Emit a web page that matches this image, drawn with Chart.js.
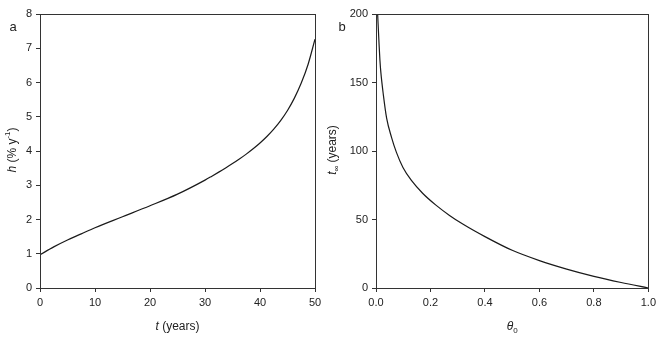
<!DOCTYPE html>
<html>
<head>
<meta charset="utf-8">
<script src="https://cdn.jsdelivr.net/npm/chart.js@4"></script>
<style>
  body { margin: 0; background: #fff; }
  #wrap { position: relative; width: 660px; height: 347px; }
  #chartA { position: absolute; left: 0; top: 0; }
  #chartB { position: absolute; left: 320px; top: 0; }
</style>
</head>
<body>
<div id="wrap">
  <canvas id="chartA" width="330" height="347"></canvas>
  <canvas id="chartB" width="340" height="347"></canvas>
</div>
<script>
// panel a: h against t
const tYears = [0, 2.5, 5, 7.5, 10, 15, 20, 25, 30, 31.25, 32.5, 33.75, 35, 36.25, 37.5, 38.75, 40, 41.25, 42.5, 43.75, 45, 46.25, 47.5, 48.75, 50];
const hRate = [0.97, 1.2, 1.4, 1.58, 1.76, 2.08, 2.4, 2.74, 3.15, 3.265, 3.383, 3.505, 3.632, 3.766, 3.909, 4.064, 4.234, 4.424, 4.639, 4.889, 5.184, 5.544, 5.984, 6.534, 7.264];

// panel b: t-infinity against theta0
const theta0 = [0.006, 0.011, 0.0145, 0.018, 0.027, 0.039, 0.057, 0.075, 0.099, 0.13, 0.172, 0.22, 0.27, 0.32, 0.4, 0.5, 0.6, 0.7, 0.8, 0.9, 1.0];
const tInf = [200, 179, 166, 157, 141, 124, 110, 99, 88, 78.5, 69, 60.5, 53, 46.5, 37.5, 27.5, 20, 13.8, 8.5, 4, 0];

const xTicksA = [0, 10, 20, 30, 40, 50];
const yTicksA = [0, 1, 2, 3, 4, 5, 6, 7, 8];
const xTicksB = [0, 0.2, 0.4, 0.6, 0.8, 1.0];
const yTicksB = [0, 50, 100, 150, 200];

const FONT = "'Liberation Sans', Arial, sans-serif";
const INK = "#222";

// draws a run of text pieces (italic / sub / sup) centred on (cx, cy)
function drawRuns(ctx, runs, cx, cy, rotate) {
  ctx.save();
  ctx.translate(cx, cy);
  if (rotate) ctx.rotate(-Math.PI / 2);
  ctx.fillStyle = INK;
  ctx.textBaseline = "middle";
  ctx.textAlign = "left";
  let total = 0;
  runs.forEach(r => {
    ctx.font = (r.italic ? "italic " : "") + (r.size || 12) + "px " + FONT;
    r.w = ctx.measureText(r.text).width;
    total += r.w;
  });
  let x = -total / 2;
  runs.forEach(r => {
    ctx.font = (r.italic ? "italic " : "") + (r.size || 12) + "px " + FONT;
    ctx.fillText(r.text, x, r.dy || 0);
    x += r.w;
  });
  ctx.restore();
}

const framePlugin = {
  id: "frame",
  afterDraw(chart) {
    const { ctx, chartArea } = chart;
    const o = chart.options.plugins.frame;
    ctx.save();
    ctx.strokeStyle = "#333";
    ctx.lineWidth = 1;
    ctx.strokeRect(Math.round(chartArea.left) + 0.5, Math.round(chartArea.top) + 0.5,
      Math.round(chartArea.right - chartArea.left), Math.round(chartArea.bottom - chartArea.top));
    ctx.restore();
    drawRuns(ctx, o.xTitle, (chartArea.left + chartArea.right) / 2, 327, false);
    drawRuns(ctx, o.yTitle, 13, 150, true);
    drawRuns(ctx, [{ text: o.letter, size: 13 }], o.letterX, 27, false);
  }
};

function makeChart(id, xs, ys, xTicks, yTicks, yWidth, rightPad, frame, xFmt) {
  return new Chart(document.getElementById(id), {
    type: "line",
    data: {
      datasets: [{
        data: xs.map((x, i) => ({ x: x, y: ys[i] })),
        borderColor: "#1a1a1a",
        borderWidth: 1.2,
        pointRadius: 0,
        cubicInterpolationMode: "monotone",
        fill: false
      }]
    },
    options: {
      responsive: false,
      animation: false,
      layout: { padding: { top: 14, right: rightPad, left: 0, bottom: 0 } },
      plugins: { legend: { display: false }, tooltip: { enabled: false }, frame: frame },
      scales: {
        x: {
          type: "linear",
          min: xTicks[0],
          max: xTicks[xTicks.length - 1],
          afterBuildTicks: s => { s.ticks = xTicks.map(v => ({ value: v })); },
          afterFit: s => { s.height = 59; },
          grid: { drawOnChartArea: false, drawTicks: true, tickLength: 4, color: "#333" },
          border: { display: false },
          ticks: { color: INK, font: { family: FONT, size: 11 }, padding: 4, maxRotation: 0, callback: xFmt }
        },
        y: {
          min: yTicks[0],
          max: yTicks[yTicks.length - 1],
          afterBuildTicks: s => { s.ticks = yTicks.map(v => ({ value: v })); },
          afterFit: s => { s.width = yWidth; },
          grid: { drawOnChartArea: false, drawTicks: true, tickLength: 4, color: "#333" },
          border: { display: false },
          ticks: { color: INK, font: { family: FONT, size: 11 }, padding: 4 }
        }
      }
    },
    plugins: [framePlugin]
  });
}

makeChart("chartA", tYears, hRate, xTicksA, yTicksA, 40, 15, {
  letter: "a", letterX: 13,
  xTitle: [{ text: "t", italic: true }, { text: " (years)" }],
  yTitle: [{ text: "h", italic: true }, { text: " (% y" }, { text: "-1", size: 8, dy: -5 }, { text: ")" }]
}, v => String(v));

makeChart("chartB", theta0, tInf, xTicksB, yTicksB, 56, 10, {
  letter: "b", letterX: 22,
  xTitle: [{ text: "θ", italic: true }, { text: "0", size: 8, dy: 4 }],
  yTitle: [{ text: "t", italic: true }, { text: "∞", size: 8, dy: 4 }, { text: " (years)" }]
}, v => Number(v).toFixed(1));
</script>
</body>
</html>
